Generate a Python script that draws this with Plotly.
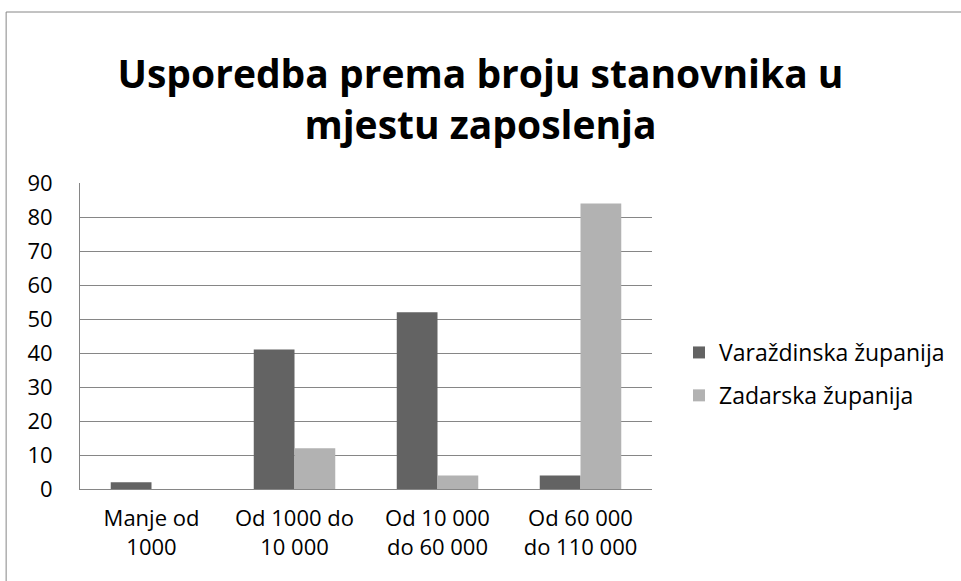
import plotly.graph_objects as go

categories = ["Manje od<br>1000", "Od 1000 do<br>10 000", "Od 10 000<br>do 60 000", "Od 60 000<br>do 110 000"]
varazdinska = [2, 41, 52, 4]
zadarska = [0, 12, 4, 84]
series_names = ["Varaždinska županija", "Zadarska županija"]
title_text = "Usporedba prema broju stanovnika u<br>mjestu zaposlenja"

W, H = 961, 581
L, R, T, B = 80, 308, 183, 92
pw, ph = W - L - R, H - T - B

def px_x(x):
    return (x - L) / pw

def px_y(y):
    return (H - B - y) / ph

FONT = "Open Sans"

fig = go.Figure()
fig.add_trace(go.Bar(x=categories, y=varazdinska, name=series_names[0],
                     marker=dict(color="#636363", line=dict(width=0)), legendgroup="a"))
fig.add_trace(go.Bar(x=categories, y=zadarska, name=series_names[1],
                     marker=dict(color="#b2b2b2", line=dict(width=0)), legendgroup="b"))

fig.update_layout(
    width=W, height=H,
    margin=dict(l=L, r=R, t=T, b=B),
    paper_bgcolor="white", plot_bgcolor="white",
    barmode="group", bargap=0.43, bargroupgap=0,
    font=dict(family=FONT, size=22, color="#000000"),
    title=dict(text="<b>" + title_text + "</b>", x=0.5, xanchor="center",
               y=1 - 88 / H, yanchor="middle",
               font=dict(family=FONT, size=39, color="#000000")),
    showlegend=True,
    legend=dict(x=px_x(679), xanchor="left", y=px_y(331), yanchor="top",
                traceorder="grouped", tracegroupgap=10,
                font=dict(family=FONT, size=23, color="#000000"),
                bgcolor="rgba(0,0,0,0)"),
    xaxis=dict(showgrid=False, showline=True, linecolor="#868686", linewidth=1,
               ticks="", ticklabelstandoff=10,
               tickfont=dict(family=FONT, size=22, color="#000000")),
    yaxis=dict(range=[0, 90], dtick=10, showgrid=True, gridcolor="#868686", gridwidth=1,
               showline=True, linecolor="#868686", linewidth=1, zeroline=False,
               ticks="", ticklabelstandoff=22,
               tickfont=dict(family=FONT, size=22, color="#000000")),
    shapes=[dict(type="rect", xref="paper", yref="paper",
                 x0=px_x(6), x1=px_x(975), y0=px_y(12), y1=px_y(600),
                 line=dict(color="#868686", width=1), fillcolor="rgba(0,0,0,0)", layer="below")],
)

fig.write_html("out.html", config={"displayModeBar": False},
               post_script="document.body.style.margin='0';")
